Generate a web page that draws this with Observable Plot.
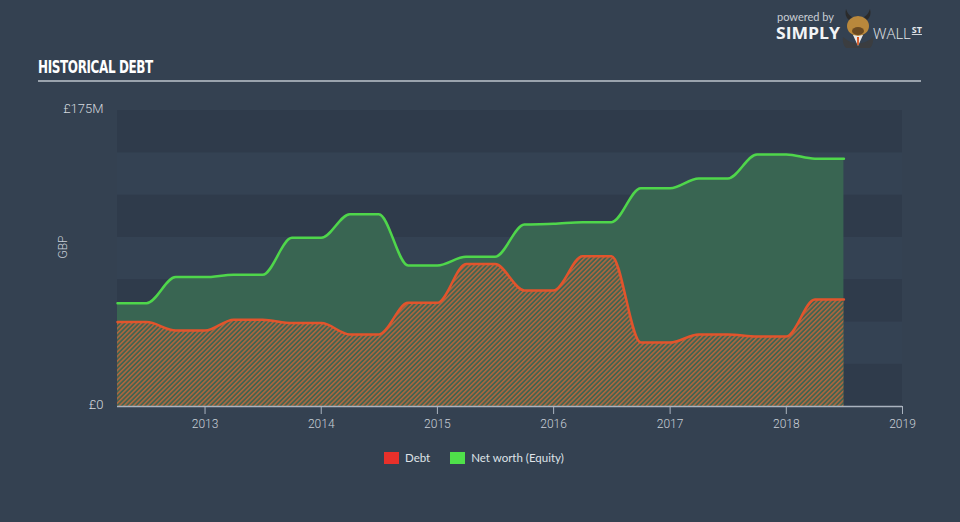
<!DOCTYPE html>
<html>
<head>
<meta charset="utf-8">
<script src="https://cdn.jsdelivr.net/npm/d3@7"></script>
<script src="https://cdn.jsdelivr.net/npm/@observablehq/plot@0.6"></script>
<style>
  html, body { margin: 0; padding: 0; }
  body { width: 960px; height: 522px; background: #344151; overflow: hidden; font-family: Lato, "Open Sans", sans-serif; }
  #header { position: relative; height: 90px; }
  #title { position: absolute; left: 38px; top: 56px; color: #ffffff; font-family: "DejaVu Sans Condensed", "Liberation Sans Narrow", sans-serif; font-stretch: condensed; font-weight: bold; font-size: 18px; letter-spacing: -0.5px; transform: scaleX(0.74); transform-origin: left top; white-space: nowrap; }
  #rule { position: absolute; left: 38px; top: 80px; width: 883px; height: 2px; background: #9aa3ad; }
  #logo { position: absolute; left: 774px; top: 6px; width: 150px; height: 44px; }
  #chart { height: 350px; }
  #legend { display: flex; justify-content: flex-start; padding-left: 384px; margin-top: 11px; font-size: 11.5px; color: #dfe3e8; font-family: Lato, "Open Sans", sans-serif; }
  .item { display: flex; align-items: center; margin-right: 20px; }
  .sw { width: 15px; height: 12px; margin-right: 6px; }
</style>
</head>
<body>
<div id="header">
  <div id="title">HISTORICAL DEBT</div>
  <div id="rule"></div>
  <svg id="logo" width="150" height="44">
    <text x="3" y="15" fill="#c9ced5" font-size="11" font-family="Lato, sans-serif" textLength="57" lengthAdjust="spacingAndGlyphs">powered by</text>
    <text x="2" y="33" fill="#f2f4f6" font-size="16" font-weight="bold" font-family="'Open Sans', Lato, sans-serif" textLength="64" lengthAdjust="spacingAndGlyphs">SIMPLY</text>
    <path d="M72 3 Q70 10 75 14 L78 11 Q74 9 72 3 Z" fill="#2b2b2b"/>
    <path d="M96 3 Q98 10 93 14 L90 11 Q94 9 96 3 Z" fill="#2b2b2b"/>
    <path d="M69 31 Q84 44 99 31 Q100 38 96 42 L72 42 Q68 38 69 31 Z" fill="#3b3d40"/>
    <path d="M79 29 L84 40 L89 29 Z" fill="#e9e9e9"/>
    <path d="M83 31 L85 31 L84.8 39 L83.2 39 Z" fill="#d9531e"/>
    <ellipse cx="84" cy="20" rx="11" ry="10" fill="#b9883c"/>
    <ellipse cx="84" cy="25" rx="6" ry="4" fill="#6b4a22"/>
    <text x="99" y="33" fill="#e6e9ed" font-size="15" font-family="'Open Sans', Lato, sans-serif" font-weight="300">WALL<tspan dx="1" dy="-6" font-size="9" font-weight="bold" text-decoration="underline">ST</tspan></text>
  </svg>
</div>
<div id="chart"></div>
<div id="legend">
  <div class="item"><div class="sw" style="background:#e8302a"></div>Debt</div>
  <div class="item"><div class="sw" style="background:#4fe04a"></div>Net worth (Equity)</div>
</div>
<script>
const dates = [
  "2012-04-01","2012-07-01","2012-10-01",
  "2013-01-01","2013-04-01","2013-07-01","2013-10-01",
  "2014-01-01","2014-04-01","2014-07-01","2014-10-01",
  "2015-01-01","2015-04-01","2015-07-01","2015-10-01",
  "2016-01-01","2016-04-01","2016-07-01","2016-10-01",
  "2017-01-01","2017-04-01","2017-07-01","2017-10-01",
  "2018-01-01","2018-04-01","2018-07-01"
];
// GBP millions
const debt = [
  49.9, 49.9, 44.9,
  44.9, 51.3, 51.3, 49.3,
  49.3, 42.6, 42.6, 61.3,
  61.3, 84.2, 84.2, 68.6,
  68.6, 88.9, 88.9, 37.8,
  37.8, 42.6, 42.6, 41.4,
  41.4, 63.3, 63.3
];
const equity = [
  61.1, 61.1, 76.5,
  76.5, 77.9, 77.9, 99.7,
  99.7, 113.7, 113.7, 83.4,
  83.4, 88.5, 88.5, 107.6,
  108.0, 109.0, 109.0, 129.1,
  129.1, 134.8, 134.8, 149.0,
  149.0, 146.5, 146.5
];
const yTicks = [0, 175];
const bandEdges = [0, 25, 50, 75, 100, 125, 150, 175];
const xDomain = ["2012-04-01", "2019-01-01"];

const table = dates.map((d, i) => ({date: new Date(d), debt: debt[i], equity: equity[i]}));
const bands = bandEdges.slice(0, -1).map((b, i) => ({y1: b, y2: bandEdges[i + 1], i}));

const plot = Plot.plot({
  width: 960,
  height: 350,
  marginTop: 20,
  marginBottom: 34,
  marginLeft: 117,
  marginRight: 58,
  style: {background: "transparent", color: "#c9cfd7", fontFamily: "Roboto, 'Open Sans', sans-serif", fontSize: "12px"},
  x: {type: "utc", domain: xDomain.map(d => new Date(d))},
  y: {domain: [0, 175]},
  marks: [
    Plot.rect(bands, {y1: "y1", y2: "y2", fill: d => (d.i % 2 === 0 ? "#2f3b4b" : "#344253")}),
    Plot.areaY(table, {x: "date", y: "equity", fill: "#396552", curve: "monotone-x"}),
    Plot.areaY(table, {x: "date", y: "debt", fill: "url(#hatch)", curve: "monotone-x"}),
    Plot.lineY(table, {x: "date", y: "equity", stroke: "#4fd64b", strokeWidth: 2.5, curve: "monotone-x"}),
    Plot.lineY(table, {x: "date", y: "debt", stroke: "#e2542c", strokeWidth: 2.5, curve: "monotone-x"}),
    Plot.ruleY([0], {stroke: "#aab3bf", strokeWidth: 1.5}),
    Plot.axisX({ticks: d3.utcYear.every(1), tickFormat: "%Y", tickSize: 8, tickPadding: 5, stroke: "#aab3bf", fill: "#c9cfd7", fontWeight: 300, label: null}),
    Plot.axisY({ticks: yTicks, tickFormat: d => d === 0 ? "£0" : `£${d}M`, tickSize: 0, tickPadding: 14, dy: -2, fontSize: 13, fill: "#d3d8de", fontWeight: 300, label: null}),
    Plot.text(["GBP"], {frameAnchor: "left", dx: -54, rotate: -90, fill: "#c9cfd7", fontSize: 12, fontWeight: 300})
  ]
});

d3.select(plot).insert("defs", ":first-child").html(`
  <pattern id="hatch" patternUnits="userSpaceOnUse" width="3.3" height="3.3" patternTransform="rotate(45)">
    <rect width="3.3" height="3.3" fill="#44634f"></rect>
    <rect width="1.5" height="3.3" fill="#b0673f"></rect>
  </pattern>`);

document.getElementById("chart").appendChild(plot);
</script>
</body>
</html>
